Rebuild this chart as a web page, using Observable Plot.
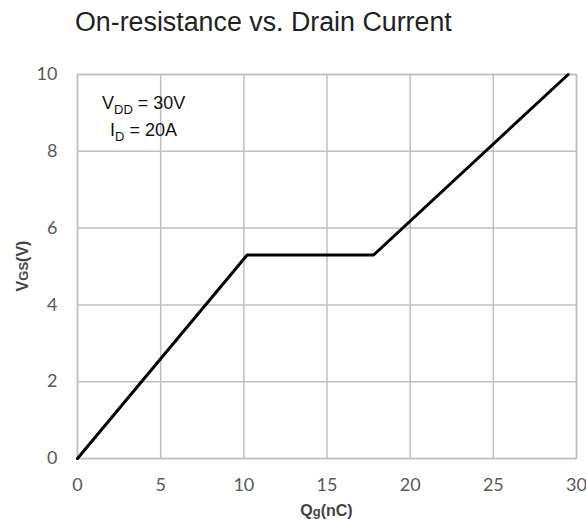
<!DOCTYPE html>
<html><head><meta charset="utf-8">
<script src="https://cdn.jsdelivr.net/npm/d3@7"></script>
<script src="https://cdn.jsdelivr.net/npm/@observablehq/plot@0.6"></script>
<style>
body{margin:0;background:#fff;font-family:"Liberation Sans",Arial,sans-serif;}
#title{height:50px;box-sizing:border-box;padding:6px 0 0 75px;font-size:26.8px;line-height:32px;color:#222;}
</style></head><body>
<div id="title">On-resistance vs. Drain Current</div>
<div id="chart"></div>
<script>
const qg = [0, 10.2, 17.8, 29.5];
const vgs = [0, 5.3, 5.3, 10];
const xTicks = [0, 5, 10, 15, 20, 25, 30];
const yTicks = [0, 2, 4, 6, 8, 10];
const data = qg.map((q, i) => ({q, v: vgs[i]}));

const plot = Plot.plot({
  width: 586, height: 475,
  marginLeft: 77, marginRight: 10, marginTop: 24, marginBottom: 67,
  style: {fontFamily: 'Lato,"Liberation Sans",Arial,sans-serif', fontSize: "18px", color: "#595959", background: "#fff"},
  x: {domain: [0, 30], ticks: xTicks, label: null, tickSize: 0, tickPadding: 20},
  y: {domain: [0, 10], ticks: yTicks, label: null, tickSize: 0, tickPadding: 20},
  marks: [
    Plot.gridX(xTicks, {stroke: "#c0c0c0", strokeOpacity: 1, strokeWidth: 1.5}),
    Plot.gridY(yTicks, {stroke: "#c0c0c0", strokeOpacity: 1, strokeWidth: 1.5}),
    Plot.frame({stroke: "#c0c0c0", strokeWidth: 1.5}),
    Plot.line(data, {x: "q", y: "v", stroke: "#000", strokeWidth: 3}),
  ]
});
document.getElementById("chart").appendChild(plot);

const svg = d3.select(plot);
const sx = plot.scale("x"), sy = plot.scale("y");
const arial = '"Liberation Sans",Arial,sans-serif';
// annotation
const ann = svg.append("g").attr("font-size", 18).attr("fill", "#111").attr("text-anchor", "start")
  .attr("font-family", arial);
const t1 = ann.append("text").attr("x", 102).attr("y", 59);
t1.append("tspan").text("V");
t1.append("tspan").attr("font-size", 13).attr("dy", 5).text("DD");
t1.append("tspan").attr("dy", -5).text(" = 30V");
const t2 = ann.append("text").attr("x", 110).attr("y", 86);
t2.append("tspan").text("I");
t2.append("tspan").attr("font-size", 13).attr("dy", 5).text("D");
t2.append("tspan").attr("dy", -5).text(" = 20A");
// x axis label
const xl = svg.append("text").attr("x", (sx.apply(0) + sx.apply(30)) / 2).attr("y", 466)
  .attr("text-anchor", "middle").attr("font-family", arial).attr("font-weight", "bold").attr("font-size", 16).attr("fill", "#444");
xl.append("tspan").text("Q");
xl.append("tspan").attr("font-size", 13).text("g");
xl.append("tspan").text("(nC)");
// y axis label
const yl = svg.append("text").attr("transform", `translate(28,${(sy.apply(0) + sy.apply(10)) / 2}) rotate(-90)`)
  .attr("text-anchor", "middle").attr("font-family", arial).attr("font-weight", "bold").attr("font-size", 16).attr("fill", "#444");
yl.append("tspan").text("V");
yl.append("tspan").attr("font-size", 13).text("GS");
yl.append("tspan").text("(V)");
</script>
</body></html>
